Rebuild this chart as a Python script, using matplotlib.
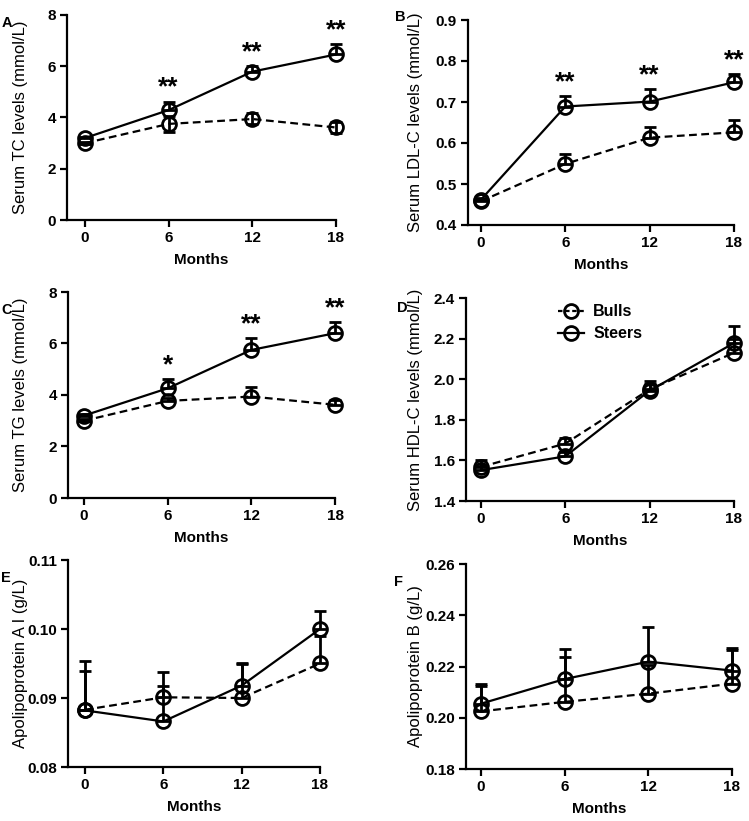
import matplotlib
matplotlib.use("Agg")
import matplotlib.pyplot as plt
from matplotlib.lines import Line2D

W, H = 749, 821
months = [0, 6, 12, 18]
xtick_labels = ["0", "6", "12", "18"]

# Panel A: Serum TC
tc_steers = [3.20, 4.29, 5.79, 6.46]
tc_steers_up = [0.05, 0.33, 0.21, 0.41]
tc_bulls = [3.00, 3.75, 3.94, 3.61]
tc_bulls_up = [0.05, 0.30, 0.22, 0.23]
tc_bulls_lo = [0.05, 0.30, 0.20, 0.23]
tc_stars = ["", "**", "**", "**"]

# Panel B: Serum LDL-C
ldl_steers = [0.462, 0.689, 0.701, 0.748]
ldl_steers_up = [0.005, 0.026, 0.030, 0.021]
ldl_bulls = [0.458, 0.549, 0.613, 0.626]
ldl_bulls_up = [0.005, 0.025, 0.026, 0.029]
ldl_stars = ["", "**", "**", "**"]

# Panel C: Serum TG
tg_steers = [3.20, 4.26, 5.75, 6.40]
tg_steers_up = [0.05, 0.35, 0.45, 0.42]
tg_bulls = [3.00, 3.77, 3.94, 3.62]
tg_bulls_up = [0.05, 0.10, 0.36, 0.17]
tg_stars = ["", "*", "**", "**"]

# Panel D: Serum HDL-C
hdl_steers = [1.552, 1.620, 1.944, 2.178]
hdl_steers_up = [0.020, 0.020, 0.030, 0.082]
hdl_bulls = [1.568, 1.683, 1.950, 2.130]
hdl_bulls_up = [0.032, 0.027, 0.040, 0.070]

# Panel E: Apolipoprotein A I
apoa_steers = [0.0882, 0.0866, 0.0918, 0.1000]
apoa_steers_up = [0.0072, 0.0051, 0.0033, 0.0026]
apoa_bulls = [0.0883, 0.0901, 0.0900, 0.0950]
apoa_bulls_up = [0.0056, 0.0036, 0.0049, 0.0040]

# Panel F: Apolipoprotein B
apob_steers = [0.2055, 0.2151, 0.2219, 0.2184]
apob_steers_up = [0.0077, 0.0117, 0.0137, 0.0087]
apob_bulls = [0.2025, 0.2062, 0.2094, 0.2133]
apob_bulls_up = [0.0100, 0.0177, 0.0110, 0.0132]

series_names = ["Bulls", "Steers"]

FAM = ["Liberation Sans", "DejaVu Sans"]
plt.rcParams["font.family"] = FAM

fig = plt.figure(figsize=(W / 100, H / 100), dpi=100)


def make_axes(left, top, right, bottom, x0px, ylim, yticks, yfmt):
    ax = fig.add_axes([left / W, 1 - bottom / H, (right - left) / W, (bottom - top) / H])
    scale = (right - x0px) / 18.0
    ax.set_xlim(-(x0px - left) / scale, 18)
    ax.set_ylim(*ylim)
    ax.set_xticks(months)
    ax.set_xticklabels(xtick_labels)
    ax.set_yticks(yticks)
    ax.set_yticklabels([yfmt.format(v) for v in yticks])
    for s in ["top", "right"]:
        ax.spines[s].set_visible(False)
    for s in ["left", "bottom"]:
        ax.spines[s].set_linewidth(1.6)
    ax.tick_params(width=1.6, length=5, direction="out", labelsize=11, pad=3)
    for lab in ax.get_xticklabels() + ax.get_yticklabels():
        lab.set_fontweight("bold")
    return ax


def plot_series(ax, vals, up, lo, dashed):
    lo = lo if lo is not None else [0] * len(vals)
    kw = dict(color="black", lw=1.6, marker="o", ms=10, mfc="none", mew=2.0,
              ecolor="black", elinewidth=2.0, capsize=4.5, capthick=2.6,
              clip_on=False, zorder=3)
    cont = ax.errorbar(months, vals, yerr=[lo, up], **kw)
    if dashed:
        cont.lines[0].set_dashes((3.5, 2))
    return cont


def stars(ax, vals, up, labels):
    for x, v, u, s in zip(months, vals, up, labels):
        if s:
            ax.annotate(s, xy=(x, v + u), xytext=(0, 10), textcoords="offset points",
                        ha="center", va="center", fontsize=19, fontweight="bold",
                        annotation_clip=False)


def labels(ax, left, top, right, bottom, ylabel, letter, letter_xy, ylab_x):
    ax.set_ylabel(ylabel, fontsize=12, fontweight="normal")
    ax.yaxis.set_label_coords((ylab_x - left) / (right - left), 0.5)
    ax.set_xlabel("Months", fontsize=11, fontweight="bold")
    ax.xaxis.set_label_coords(0.5, -33 / (bottom - top))
    fig.text(letter_xy[0] / W, 1 - letter_xy[1] / H, letter, fontsize=10.5, fontweight="bold",
             ha="center", va="center")


# Panel A
r = (67, 15, 336, 220)
axA = make_axes(*r, 85, (0, 8), [0, 2, 4, 6, 8], "{:g}")
plot_series(axA, tc_bulls, tc_bulls_up, tc_bulls_lo, True)
plot_series(axA, tc_steers, tc_steers_up, None, False)
stars(axA, tc_steers, tc_steers_up, tc_stars)
labels(axA, *r, "Serum TC levels (mmol/L)", "A", (7, 23), 28)

# Panel B
r = (468, 20, 734, 225)
axB = make_axes(*r, 481, (0.4, 0.9), [0.4, 0.5, 0.6, 0.7, 0.8, 0.9], "{:.1f}")
plot_series(axB, ldl_bulls, ldl_bulls_up, None, True)
plot_series(axB, ldl_steers, ldl_steers_up, None, False)
stars(axB, ldl_steers, ldl_steers_up, ldl_stars)
labels(axB, *r, "Serum LDL-C levels (mmol/L)", "B", (400, 17), 423)

# Panel C
r = (68, 292, 335, 498)
axC = make_axes(*r, 84, (0, 8), [0, 2, 4, 6, 8], "{:g}")
plot_series(axC, tg_bulls, tg_bulls_up, None, True)
plot_series(axC, tg_steers, tg_steers_up, None, False)
stars(axC, tg_steers, tg_steers_up, tg_stars)
labels(axC, *r, "Serum TG levels (mmol/L)", "C", (7, 310), 28)

# Panel D
r = (466, 298, 734, 501)
axD = make_axes(*r, 481, (1.4, 2.4), [1.4, 1.6, 1.8, 2.0, 2.2, 2.4], "{:.1f}")
plot_series(axD, hdl_bulls, hdl_bulls_up, None, True)
plot_series(axD, hdl_steers, hdl_steers_up, None, False)
labels(axD, *r, "Serum HDL-C levels (mmol/L)", "D", (402, 308), 423)
h_b = Line2D([], [], color="black", lw=1.6, marker="o", ms=10, mfc="none", mew=2.0, dashes=(2, 1.2))
h_s = Line2D([], [], color="black", lw=1.6, marker="o", ms=10, mfc="none", mew=2.0)
leg = axD.legend([h_b, h_s], series_names, loc="upper left", bbox_to_anchor=(0.29, 1.04),
                 frameon=False, handlelength=1.6, handletextpad=0.6, labelspacing=0.45,
                 prop=dict(size=11.5, weight="bold"))

# Panel E
r = (68, 560, 320, 767)
axE = make_axes(*r, 85, (0.08, 0.11), [0.08, 0.09, 0.10, 0.11], "{:.2f}")
plot_series(axE, apoa_bulls, apoa_bulls_up, None, True)
plot_series(axE, apoa_steers, apoa_steers_up, None, False)
labels(axE, *r, "Apolipoprotein A I (g/L)", "E", (6, 578), 28)

# Panel F
r = (466, 564, 732, 769)
axF = make_axes(*r, 481, (0.18, 0.26), [0.18, 0.20, 0.22, 0.24, 0.26], "{:.2f}")
plot_series(axF, apob_bulls, apob_bulls_up, None, True)
plot_series(axF, apob_steers, apob_steers_up, None, False)
labels(axF, *r, "Apolipoprotein B (g/L)", "F", (398, 582), 423)

fig.savefig("out.png", dpi=100)
